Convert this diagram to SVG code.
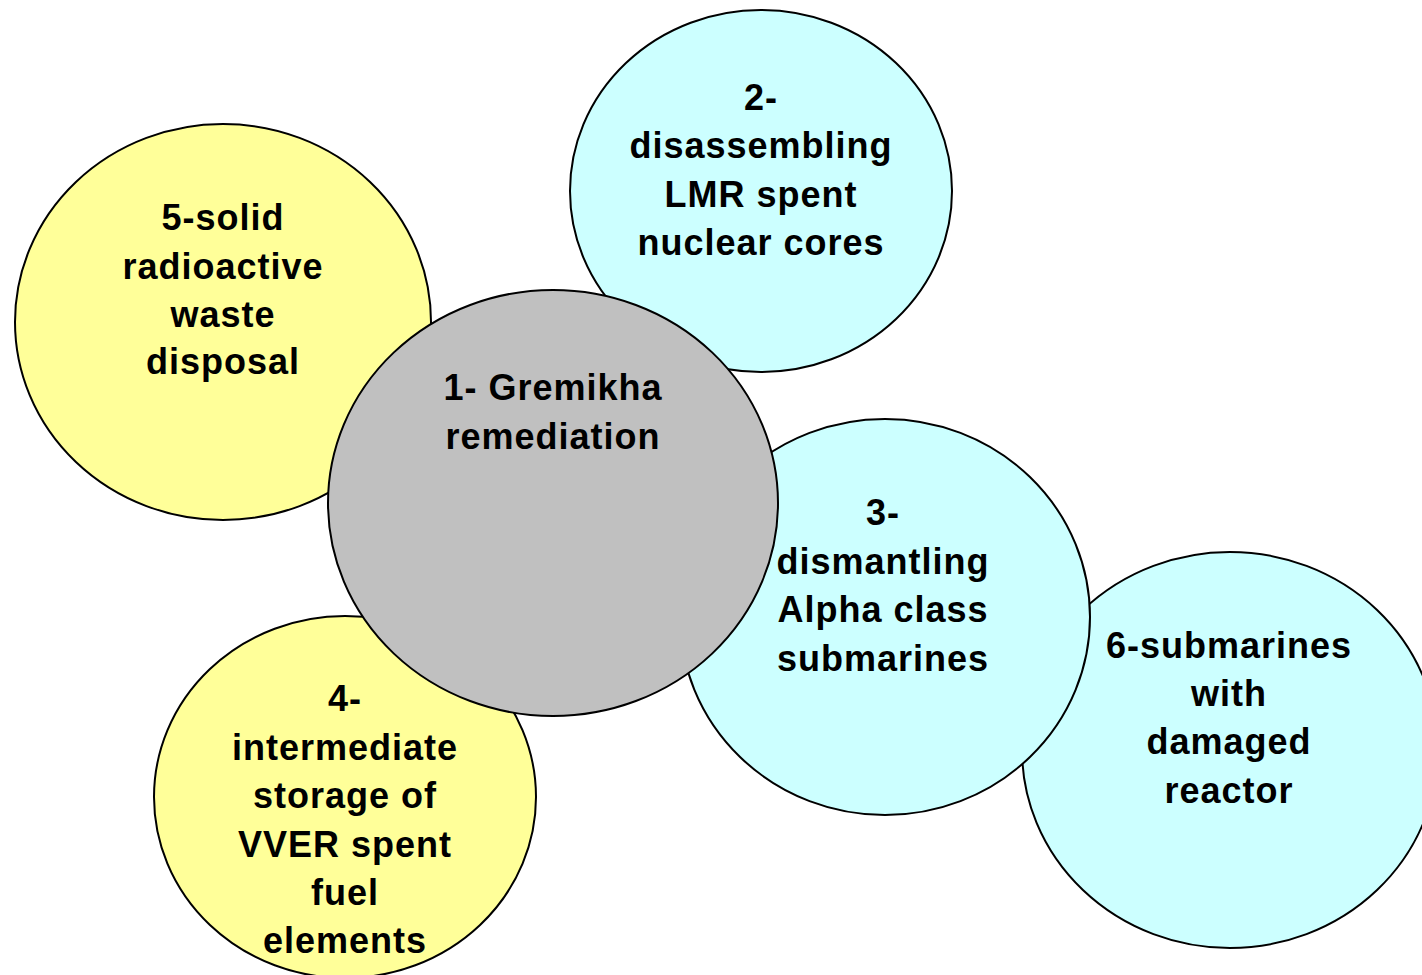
<svg xmlns="http://www.w3.org/2000/svg" width="1422" height="975" viewBox="0 0 1422 975">
<style>
.c{stroke:#000;stroke-width:2}
.y{fill:#FFFF99}
.b{fill:#CCFFFF}
.g{fill:#C0C0C0}
text{font-family:"Liberation Sans",Arial,sans-serif;font-weight:bold;font-size:36px;letter-spacing:1px;fill:#000;text-anchor:middle}
</style>
<rect width="1422" height="975" fill="#fff"/>
<g id="node5">
<ellipse class="c y" cx="223" cy="322" rx="208" ry="198"/>
<text x="223" y="230">5-solid</text>
<text x="223" y="279">radioactive</text>
<text x="223" y="327">waste</text>
<text x="223" y="374">disposal</text>
</g>
<g id="node2">
<ellipse class="c b" cx="761" cy="191" rx="191" ry="181"/>
<text x="761" y="110">2-</text>
<text x="761" y="158">disassembling</text>
<text x="761" y="207">LMR spent</text>
<text x="761" y="255">nuclear cores</text>
</g>
<g id="node4">
<ellipse class="c y" cx="345" cy="797" rx="191" ry="181"/>
<text x="345" y="711">4-</text>
<text x="345" y="760">intermediate</text>
<text x="345" y="808">storage of</text>
<text x="345" y="857">VVER spent</text>
<text x="345" y="905">fuel</text>
<text x="345" y="953">elements</text>
</g>
<g id="node6">
<ellipse class="c b" cx="1230" cy="750" rx="208" ry="198"/>
<text x="1229" y="658">6-submarines</text>
<text x="1229" y="706">with</text>
<text x="1229" y="754">damaged</text>
<text x="1229" y="803">reactor</text>
</g>
<g id="node3">
<ellipse class="c b" cx="885" cy="617" rx="205" ry="198"/>
<text x="883" y="525">3-</text>
<text x="883" y="574">dismantling</text>
<text x="883" y="622">Alpha class</text>
<text x="883" y="671">submarines</text>
</g>
<g id="node1">
<ellipse class="c g" cx="553" cy="503" rx="225" ry="213"/>
<text x="553" y="400">1- Gremikha</text>
<text x="553" y="449">remediation</text>
</g>
<g id="connectors"></g>
</svg>
